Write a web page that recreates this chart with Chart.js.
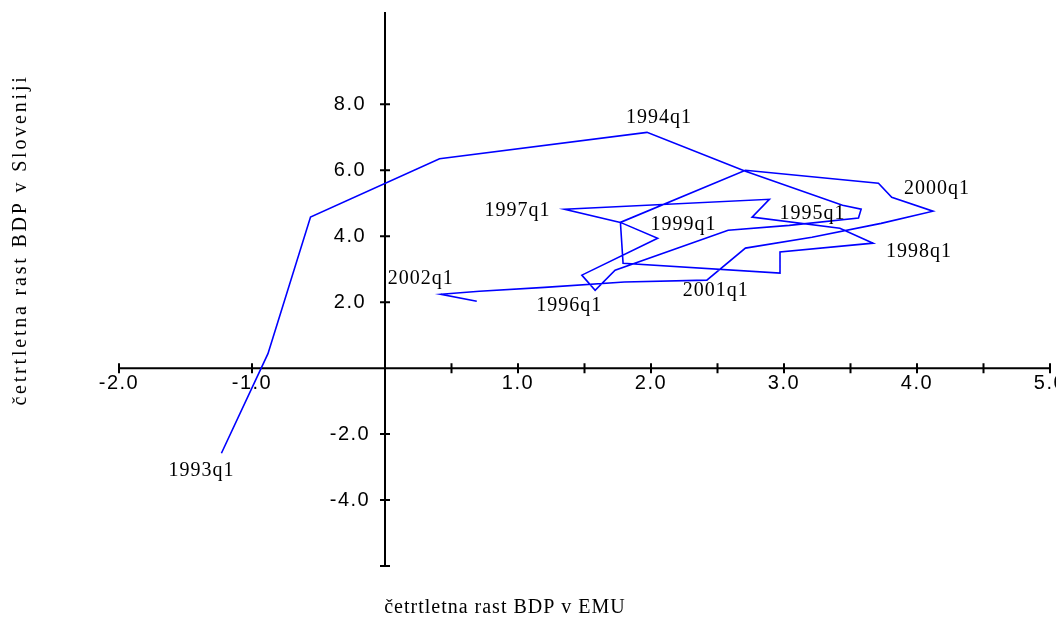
<!DOCTYPE html>
<html lang="sl">
<head>
<meta charset="UTF-8">
<title>Rast BDP - Slovenija / EMU</title>
<script src="https://cdn.jsdelivr.net/npm/chart.js"></script>
<style>
  html, body { margin: 0; padding: 0; background: #fff; }
</style>
</head>
<body>
<canvas id="rast" width="1056" height="630"></canvas>
<script>
  // quarterly GDP growth, EMU (x) against Slovenia (y)
  const quarters = [
    '1993q1', '1993q2', '1993q3', '1993q4',
    '1994q1', '1994q2', '1994q3', '1994q4',
    '1995q1', '1995q2', '1995q3', '1995q4',
    '1996q1', '1996q2', '1996q3', '1996q4',
    '1997q1', '1997q2', '1997q3', '1997q4',
    '1998q1', '1998q2', '1998q3', '1998q4',
    '1999q1', '1999q2', '1999q3', '1999q4',
    '2000q1', '2000q2', '2000q3', '2000q4',
    '2001q1', '2001q2', '2001q3', '2001q4',
    '2002q1', '2002q2'
  ];
  const emuGrowth = [
    -1.23, -0.88, -0.56, 0.41,
    1.97, 2.71, 3.44, 3.58,
    3.56, 3.04, 2.58, 1.73,
    1.58, 1.48, 2.05, 1.77,
    1.35, 2.89, 2.76, 3.42,
    3.67, 2.97, 2.97, 1.79,
    1.77, 2.71, 3.71, 3.81,
    4.12, 3.73, 3.21, 2.71,
    2.42, 1.80, 1.20, 0.71,
    0.42, 0.69
  ];
  const sloGrowth = [
    -2.58, 0.44, 4.58, 6.35,
    7.15, 5.97, 4.94, 4.82,
    4.55, 4.33, 4.18, 2.97,
    2.36, 2.82, 3.94, 4.42,
    4.82, 5.12, 4.58, 4.24,
    3.79, 3.52, 2.88, 3.18,
    4.42, 6.00, 5.61, 5.18,
    4.76, 4.39, 3.97, 3.64,
    2.67, 2.61, 2.45, 2.33,
    2.24, 2.03
  ];
  const labelled = ['1993q1', '1994q1', '1995q1', '1996q1', '1997q1', '1998q1', '1999q1', '2000q1', '2001q1', '2002q1'];

  const xTicks = [-2, -1, 0.5, 1, 1.5, 2, 2.5, 3, 3.5, 4, 4.5, 5];
  const xTickLabels = ['-2.0', '-1.0', '', '1.0', '', '2.0', '', '3.0', '', '4.0', '', '5.0'];
  const yTicks = [-6, -4, -2, 2, 4, 6, 8];
  const yTickLabels = ['', '-4.0', '-2.0', '2.0', '4.0', '6.0', '8.0'];

  const xTitle = 'četrtletna rast BDP v EMU';
  const yTitle = 'četrtletna rast BDP v Sloveniji';

  // where each year label sits, in px from its point
  const labelShift = {
    '1993q1': [-20, 18], '1994q1': [12, -14], '1995q1': [-46, -4],
    '1996q1': [-26, 16], '1997q1': [-47, 2], '1998q1': [46, 9],
    '1999q1': [63, 3], '2000q1': [4, -22], '2001q1': [9, 11],
    '2002q1': [-20, -15]
  };

  const serif = '20px "Liberation Serif", "Times New Roman", serif';
  const sans = '20px "Liberation Sans", Arial, sans-serif';

  const crossAxes = {
    id: 'crossAxes',
    beforeDatasetsDraw(chart) {
      const { ctx, scales: { x, y } } = chart;
      const x0 = x.getPixelForValue(0);
      const y0 = y.getPixelForValue(0);
      ctx.save();
      ctx.strokeStyle = '#000';
      ctx.lineWidth = 2;
      ctx.beginPath();
      ctx.moveTo(x.left, y0);
      ctx.lineTo(x.right, y0);
      ctx.moveTo(x0, y.top);
      ctx.lineTo(x0, y.bottom);
      xTicks.forEach((v) => {
        const px = x.getPixelForValue(v);
        ctx.moveTo(px, y0 - 5);
        ctx.lineTo(px, y0 + 5);
      });
      yTicks.forEach((v) => {
        const py = y.getPixelForValue(v);
        ctx.moveTo(x0 - 5, py);
        ctx.lineTo(x0 + 5, py);
      });
      ctx.stroke();

      ctx.fillStyle = '#000';
      ctx.font = sans;
      ctx.letterSpacing = '1.5px';
      ctx.textAlign = 'center';
      ctx.textBaseline = 'middle';
      xTicks.forEach((v, i) => {
        if (xTickLabels[i]) ctx.fillText(xTickLabels[i], x.getPixelForValue(v), y0 + 15);
      });
      yTicks.forEach((v, i) => {
        if (yTickLabels[i]) ctx.fillText(yTickLabels[i], x0 - 35, y.getPixelForValue(v));
      });
      ctx.restore();
    },
    afterDatasetsDraw(chart) {
      const { ctx } = chart;
      const pts = chart.getDatasetMeta(0).data;
      ctx.save();
      ctx.fillStyle = '#000';
      ctx.font = serif;
      ctx.letterSpacing = '1px';
      ctx.textAlign = 'center';
      ctx.textBaseline = 'alphabetic';
      labelled.forEach((q) => {
        const p = pts[quarters.indexOf(q)];
        const s = labelShift[q];
        ctx.fillText(q, p.x + s[0], p.y + s[1] + 5);
      });

      ctx.fillText(xTitle, 505, 613);
      ctx.translate(26, 240);
      ctx.rotate(-Math.PI / 2);
      ctx.letterSpacing = '2.8px';
      ctx.fillText(yTitle, 0, 0);
      ctx.restore();
    }
  };

  new Chart(document.getElementById('rast'), {
    type: 'scatter',
    data: {
      datasets: [{
        label: 'rast BDP',
        data: quarters.map((q, i) => ({ x: emuGrowth[i], y: sloGrowth[i] })),
        showLine: true,
        borderColor: '#0000ff',
        borderWidth: 1.6,
        pointRadius: 0,
        tension: 0
      }]
    },
    options: {
      responsive: false,
      animation: false,
      devicePixelRatio: 1,
      layout: { padding: { left: 119, right: 6, top: 12, bottom: 64 } },
      plugins: { legend: { display: false }, tooltip: { enabled: false } },
      scales: {
        x: {
          type: 'linear', min: -2, max: 5,
          position: { y: 0 },
          grid: { display: false }, border: { display: false },
          ticks: { display: false }
        },
        y: {
          type: 'linear', min: -6, max: 10.8,
          position: { x: 0 },
          grid: { display: false }, border: { display: false },
          ticks: { display: false }
        }
      }
    },
    plugins: [crossAxes]
  });
</script>
</body>
</html>
